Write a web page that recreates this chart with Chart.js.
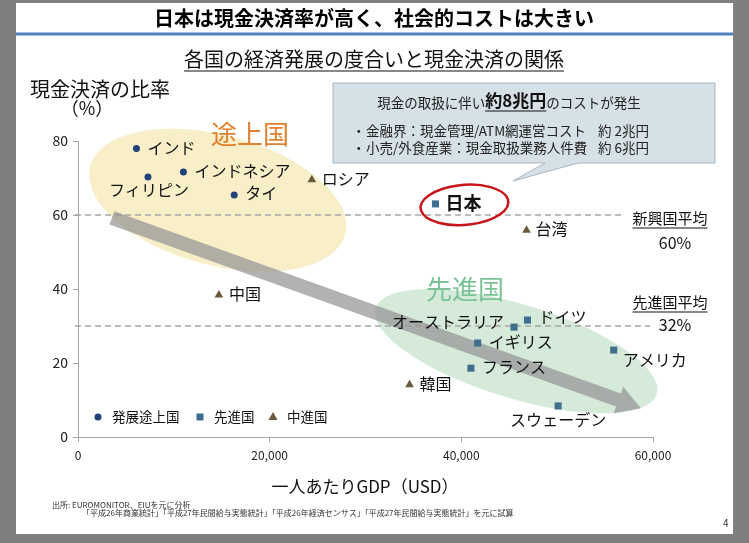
<!DOCTYPE html>
<html><head><meta charset="utf-8">
<script src="https://cdn.jsdelivr.net/npm/chart.js@4/dist/chart.umd.min.js"></script>
<style>
html,body{margin:0;padding:0;background:#7f7f7f;}
#wrap{position:absolute;left:0;top:0;width:749px;height:543px;}
</style></head><body>
<div id="wrap"><canvas id="c" width="749" height="543"></canvas></div>
<script>
// ---- data ----
const developingNames = ['インド','フィリピン','インドネシア','タイ'];
const developingGDP   = [6100, 7300, 11000, 16300];
const developingCash  = [78.0, 70.3, 71.6, 65.4];

const advancedNames = ['日本','ドイツ','オーストラリア','イギリス','アメリカ','フランス','スウェーデン'];
const advancedGDP   = [37300, 46900, 45500, 41700, 55900, 41000, 50100];
const advancedCash  = [63.0, 31.6, 29.7, 25.4, 23.5, 18.6, 8.4];

const middleNames = ['ロシア','台湾','中国','韓国'];
const middleGDP   = [24400, 46800, 14700, 34600];
const middleCash  = [69.5, 55.9, 38.4, 14.1];

const seriesNames = ['発展途上国','先進国','中進国'];
const xTicks = [0, 20000, 40000, 60000];
const yTicks = [0, 20, 40, 60, 80];
const avgLineValues = [60, 30];
const avgTitles = ['新興国平均','先進国平均'];
const avgLabels = ['60%','32%'];

// ---- styles ----
const FONT = "'Noto Sans CJK JP','Noto Sans',sans-serif";
const C_DEV = '#23427a', C_ADV = '#3f6e8e', C_MID = '#6a5a3c';

// label placement per name (pixel offsets from point)
const labelPos = {
  'インド':[11,0,'left'], 'フィリピン':[1,13,'center'], 'インドネシア':[11,-1,'left'], 'タイ':[11,-2,'left'],
  'ロシア':[10,-1,'left'], '日本':[10,-1,'left'], '台湾':[9,-1,'left'], '中国':[10,-1,'left'],
  'ドイツ':[11,-3,'left'], 'オーストラリア':[-10,-5,'right'], 'イギリス':[11,-1,'left'],
  'アメリカ':[9,10,'left'], 'フランス':[11,-1,'left'], '韓国':[10,-1,'left'], 'スウェーデン':[0,14,'center']
};

function txt(ctx, s, x, y, font, color, align, underline) {
  ctx.save();
  ctx.font = font; ctx.fillStyle = color; ctx.textAlign = align || 'left'; ctx.textBaseline = 'middle';
  ctx.fillText(s, x, y);
  if (underline) {
    const w = ctx.measureText(s).width;
    let x0 = x; if (align === 'center') x0 = x - w/2; else if (align === 'right') x0 = x - w;
    ctx.strokeStyle = color; ctx.lineWidth = 1;
    ctx.beginPath(); ctx.moveTo(x0, y + underline); ctx.lineTo(x0 + w, y + underline); ctx.stroke();
  }
  ctx.restore();
}

const slidePlugin = {
  id: 'slide',
  beforeDraw(chart) {
    const ctx = chart.ctx;
    ctx.save();
    ctx.fillStyle = '#7f7f7f'; ctx.fillRect(0, 0, 749, 543);
    ctx.fillStyle = '#ffffff'; ctx.fillRect(16, 3, 717, 531);
    // title
    txt(ctx, '日本は現金決済率が高く、社会的コストは大きい', 374, 18, `bold 20px ${FONT}`, '#000', 'center');
    ctx.strokeStyle = '#4f81bd'; ctx.lineWidth = 3;
    ctx.beginPath(); ctx.moveTo(16, 34); ctx.lineTo(733, 34); ctx.stroke();
    txt(ctx, '各国の経済発展の度合いと現金決済の関係', 374, 59, `20px ${FONT}`, '#111', 'center', 12);
    // axis titles
    txt(ctx, '現金決済の比率', 100, 89, `20px ${FONT}`, '#111', 'center');
    txt(ctx, '（%）', 87, 108, `18px ${FONT}`, '#111', 'center');
    txt(ctx, '一人あたりGDP（USD）', 365, 487, `17px ${FONT}`, '#111', 'center');
    // footer
    txt(ctx, '出所: EUROMONITOR、EIUを元に分析', 52, 505, `8px ${FONT}`, '#333', 'left');
    txt(ctx, '「平成26年商業統計」「平成27年民間給与実態統計」「平成26年経済センサス」「平成27年民間給与実態統計」を元に試算', 82, 513, `8px ${FONT}`, '#333', 'left');
    txt(ctx, '4', 723, 523, `10px ${FONT}`, '#333', 'left');
    ctx.restore();
  },
  beforeDatasetsDraw(chart) {
    const ctx = chart.ctx, xs = chart.scales.x, ys = chart.scales.y;
    const P = (x, y) => [xs.getPixelForValue(x), ys.getPixelForValue(y)];
    ctx.save();
    // ellipses
    let [cx, cy] = P(14580, 64.0);
    ctx.fillStyle = '#f8efc8';
    ctx.beginPath(); ctx.ellipse(cx, cy, 132, 65, 15 * Math.PI / 180, 0, Math.PI * 2); ctx.fill();
    [cx, cy] = P(45730, 23.2);
    ctx.fillStyle = '#d6ead9';
    ctx.beginPath(); ctx.ellipse(cx, cy, 147, 47, 17 * Math.PI / 180, 0, Math.PI * 2); ctx.fill();
    // dashed average lines
    ctx.strokeStyle = '#a6a6a6'; ctx.lineWidth = 1.5; ctx.setLineDash([6, 4]);
    const ends = [625, 650];
    avgLineValues.forEach((v, i) => {
      const y = ys.getPixelForValue(v);
      ctx.beginPath(); ctx.moveTo(xs.left - 3, y); ctx.lineTo(ends[i], y); ctx.stroke();
    });
    ctx.setLineDash([]);
    // group captions
    txt(ctx, '途上国', 250, 134, `26px ${FONT}`, '#e2802e', 'center');
    txt(ctx, '先進国', 465, 289, `26px ${FONT}`, '#7cc497', 'center');
    // averages captions
    txt(ctx, avgTitles[0], 670, 218, `15px ${FONT}`, '#111', 'center', 10);
    txt(ctx, avgLabels[0], 675, 243, `16px ${FONT}`, '#111', 'center');
    txt(ctx, avgTitles[1], 670, 302, `15px ${FONT}`, '#111', 'center', 10);
    txt(ctx, avgLabels[1], 675, 325, `16px ${FONT}`, '#111', 'center');
    // arrow
    const [sx, sy] = P(3540, 59.2), [ex, ey] = P(58750, 7.8);
    const ang = Math.atan2(ey - sy, ex - sx), L = Math.hypot(ex - sx, ey - sy);
    ctx.translate(sx, sy); ctx.rotate(ang);
    ctx.fillStyle = 'rgba(148,148,148,0.72)';
    ctx.beginPath();
    ctx.moveTo(0, -7); ctx.lineTo(L - 24, -7); ctx.lineTo(L - 24, -14); ctx.lineTo(L, 0);
    ctx.lineTo(L - 24, 14); ctx.lineTo(L - 24, 7); ctx.lineTo(0, 7); ctx.closePath(); ctx.fill();
    ctx.restore();
  },
  afterDatasetsDraw(chart) {
    const ctx = chart.ctx;
    ctx.save();
    // point labels
    const groups = [developingNames, advancedNames, middleNames];
    groups.forEach((names, di) => {
      const meta = chart.getDatasetMeta(di);
      meta.data.forEach((el, i) => {
        const n = names[i], p = labelPos[n] || [10, 0, 'left'];
        const bold = n === '日本';
        txt(ctx, n, el.x + p[0], el.y + p[1], `${bold ? 'bold 18px' : '16px'} ${FONT}`, '#111', p[2]);
      });
    });
    // red hand-drawn circle around Japan
    const jm = chart.getDatasetMeta(1).data[0];
    ctx.strokeStyle = '#c8151b'; ctx.lineWidth = 2.5;
    ctx.beginPath(); ctx.ellipse(jm.x + 29, jm.y + 1, 44, 20, -0.08, -0.9, Math.PI * 2 - 0.75); ctx.stroke();
    // legend inside plot
    const ly = 417;
    const legendX = [98, 200, 273];
    const styles = ['circle', 'rect', 'triangle'], cols = [C_DEV, C_ADV, C_MID];
    seriesNames.forEach((s, i) => {
      ctx.fillStyle = cols[i];
      ctx.beginPath();
      if (styles[i] === 'circle') ctx.arc(legendX[i], ly, 3.5, 0, Math.PI * 2);
      else if (styles[i] === 'rect') ctx.rect(legendX[i] - 3.5, ly - 3.5, 7, 7);
      else { ctx.moveTo(legendX[i], ly - 5); ctx.lineTo(legendX[i] + 4.5, ly + 3); ctx.lineTo(legendX[i] - 4.5, ly + 3); ctx.closePath(); }
      ctx.fill();
      txt(ctx, s, legendX[i] + 14, ly, `13.5px ${FONT}`, '#111', 'left');
    });
    // callout box
    ctx.fillStyle = '#d6e0e7'; ctx.strokeStyle = '#a9b6c0'; ctx.lineWidth = 1;
    ctx.beginPath();
    ctx.moveTo(333, 83); ctx.lineTo(715, 83); ctx.lineTo(715, 163); ctx.lineTo(578, 163);
    ctx.lineTo(513, 181); ctx.lineTo(545, 163); ctx.lineTo(333, 163); ctx.closePath();
    ctx.fill(); ctx.stroke();
    // callout text
    const f1 = `13.5px ${FONT}`, f2 = `bold 17px ${FONT}`;
    const a = '現金の取扱に伴い', b = '約8兆円', c = 'のコストが発生';
    ctx.font = f1; const wa = ctx.measureText(a).width, wc = ctx.measureText(c).width;
    ctx.font = f2; const wb = ctx.measureText(b).width;
    let x0 = 509 - (wa + wb + wc) / 2;
    txt(ctx, a, x0, 103, f1, '#222'); txt(ctx, b, x0 + wa, 101, f2, '#111', 'left', 10);
    txt(ctx, c, x0 + wa + wb, 103, f1, '#222');
    txt(ctx, '・', 352, 131, f1, '#222'); txt(ctx, '金融界：現金管理/ATM網運営コスト', 366, 131, f1, '#222');
    txt(ctx, '約 2兆円', 598, 131, f1, '#222');
    txt(ctx, '・', 352, 148, f1, '#222'); txt(ctx, '小売/外食産業：現金取扱業務人件費', 366, 148, f1, '#222');
    txt(ctx, '約 6兆円', 598, 148, f1, '#222');
    ctx.restore();
  }
};

const toPts = (xs, ys) => xs.map((x, i) => ({x: x, y: ys[i]}));

new Chart(document.getElementById('c'), {
  type: 'scatter',
  data: {
    datasets: [
      {label: seriesNames[0], data: toPts(developingGDP, developingCash), pointStyle: 'circle', pointRadius: 3.5, backgroundColor: C_DEV, borderWidth: 0},
      {label: seriesNames[1], data: toPts(advancedGDP, advancedCash), pointStyle: 'rect', pointRadius: 5, backgroundColor: C_ADV, borderWidth: 0},
      {label: seriesNames[2], data: toPts(middleGDP, middleCash), pointStyle: 'triangle', pointRadius: 5, backgroundColor: C_MID, borderWidth: 0}
    ]
  },
  options: {
    responsive: false, animation: false, devicePixelRatio: 1,
    layout: {padding: {top: 141, right: 96, left: 0, bottom: 0}},
    plugins: {legend: {display: false}, tooltip: {enabled: false}},
    scales: {
      x: {
        type: 'linear', min: 0, max: 60000,
        afterBuildTicks: s => { s.ticks = xTicks.map(v => ({value: v})); },
        ticks: {callback: v => v.toLocaleString('en-US'), font: {size: 12, family: FONT}, color: '#222', padding: 6, maxRotation: 0},
        grid: {drawOnChartArea: false, drawTicks: true, tickLength: 5, color: '#a6a6a6'},
        border: {display: true, color: '#a6a6a6'},
        afterFit: s => { s.height = 106; }
      },
      y: {
        type: 'linear', min: 0, max: 80,
        afterBuildTicks: s => { s.ticks = yTicks.map(v => ({value: v})); },
        ticks: {font: {size: 14, family: FONT}, color: '#222', padding: 5},
        grid: {drawOnChartArea: false, drawTicks: true, tickLength: 5, color: '#a6a6a6'},
        border: {display: true, color: '#a6a6a6'},
        afterFit: s => { s.width = 78; }
      }
    }
  },
  plugins: [slidePlugin]
});
</script>
</body></html>
